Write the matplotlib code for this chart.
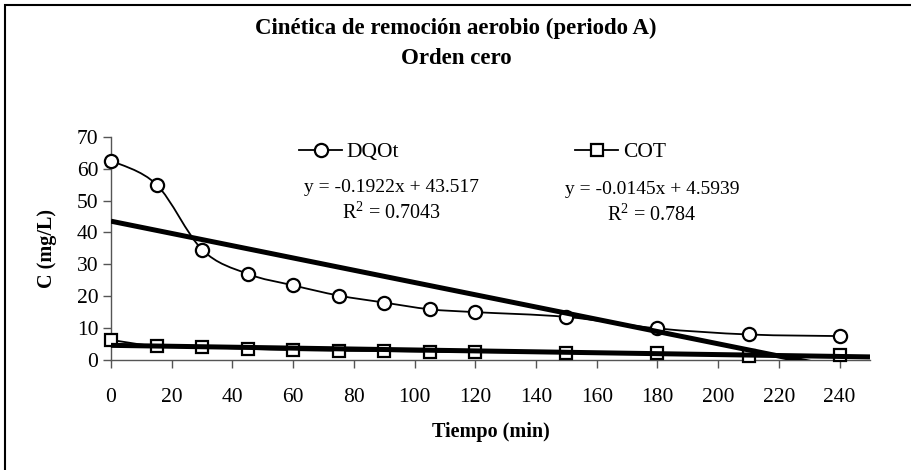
import matplotlib
matplotlib.use("Agg")
import matplotlib.pyplot as plt
from matplotlib.path import Path
from matplotlib.patches import PathPatch, Rectangle
from matplotlib.lines import Line2D
import numpy as np

# ---- data ----
tiempo = [0, 15, 30, 45, 60, 75, 90, 105, 120, 150, 180, 210, 240]
dqot = [62.5, 55.0, 34.6, 27.0, 23.4, 20.2, 18.0, 15.9, 15.0, 13.5, 9.9, 8.0, 7.5]
cot = [6.3, 4.3, 4.0, 3.5, 3.1, 2.9, 2.8, 2.6, 2.5, 2.3, 2.1, 1.4, 1.6]
trend_dqot = (-0.1922, 43.517)
trend_cot = (-0.0145, 4.5939)
trend_range = (0, 250)
eq_dqot = ["y = -0.1922x + 43.517", "R$^2$ = 0.7043"]
eq_cot = ["y = -0.0145x + 4.5939", "R$^2$ = 0.784"]
xticks = list(range(0, 241, 20))
yticks = list(range(0, 71, 10))
title = "Cinética de remoción aerobio (periodo A)\nOrden cero"
xlabel = "Tiempo (min)"
ylabel = "C (mg/L)"

plt.rcParams['font.family'] = ['Liberation Serif', 'DejaVu Serif']
plt.rcParams['mathtext.fontset'] = 'custom'
plt.rcParams['mathtext.rm'] = 'Liberation Serif'

W, H = 912, 470
fig = plt.figure(figsize=(W / 100, H / 100), dpi=100)

# outer chart border (top & left visible)
fig.patches.append(Rectangle((5 / W, -0.1), 2.0, 1 - 5 / H + 0.1, transform=fig.transFigure,
                             fill=False, edgecolor='black', linewidth=1.5))

ax = fig.add_axes([111 / W, 1 - 360 / H, 759 / W, (360 - 136.7) / H])
ax.set_xlim(0, 250)
ax.set_ylim(0, 70)


def smooth_path(xs, ys):
    pts = np.column_stack([xs, ys]).astype(float)
    n = len(pts)
    verts = [pts[0]]
    codes = [Path.MOVETO]
    for i in range(n - 1):
        p0 = pts[i - 1] if i > 0 else pts[i]
        p1 = pts[i]
        p2 = pts[i + 1]
        p3 = pts[i + 2] if i + 2 < n else pts[i + 1]
        c1 = p1 + (p2 - p0) / 6.0
        c2 = p2 - (p3 - p1) / 6.0
        verts += [c1, c2, p2]
        codes += [Path.CURVE4] * 3
    return Path(verts, codes)


for ys in (dqot, cot):
    ax.add_patch(PathPatch(smooth_path(tiempo, ys), fill=False, edgecolor='black',
                           linewidth=1.3, zorder=2, clip_on=False))

ax.plot(tiempo, dqot, linestyle='none', marker='o', markersize=9.5, markerfacecolor='white',
        markeredgecolor='black', markeredgewidth=1.6, zorder=3, clip_on=False)
ax.plot(tiempo, cot, linestyle='none', marker='s', markersize=8.5, markerfacecolor='white',
        markeredgecolor='black', markeredgewidth=1.6, zorder=3, clip_on=False)

tx = np.array(trend_range, dtype=float)
for m, b in (trend_dqot, trend_cot):
    ax.plot(tx, m * tx + b, color='black', linewidth=3.6, solid_capstyle='butt', zorder=4)

for s in ('top', 'right'):
    ax.spines[s].set_visible(False)
for s in ('left', 'bottom'):
    ax.spines[s].set_color('#555555')
    ax.spines[s].set_linewidth(1.0)

ax.set_xticks(xticks)
ax.set_yticks(yticks)
ax.tick_params(direction='out', length=6, width=1.0, color='#555555', labelsize=15.5, pad=3)
ax.tick_params(axis='x', pad=14)

ax.set_xlabel(xlabel, fontsize=14.5, fontweight='bold', labelpad=11)
ax.set_ylabel(ylabel, fontsize=14.5, fontweight='bold', labelpad=14)

fig.text(456 / W, 1 - 43.5 / H, title, ha='center', va='center', fontsize=16.5, fontweight='bold',
         linespacing=1.6)

# equations
fig.text(392 / W, 1 - 188 / H, eq_dqot[0], ha='center', va='center', fontsize=14)
fig.text(392 / W, 1 - 213 / H, eq_dqot[1], ha='center', va='center', fontsize=14.5)
fig.text(652 / W, 1 - 190 / H, eq_cot[0], ha='center', va='center', fontsize=14)
fig.text(652 / W, 1 - 215 / H, eq_cot[1], ha='center', va='center', fontsize=14.5)

handles = [Line2D([], [], color='black', linewidth=1.3, marker='o', markersize=9.5,
                  markerfacecolor='white', markeredgewidth=1.6),
           Line2D([], [], color='black', linewidth=1.3, marker='s', markersize=8.5,
                  markerfacecolor='white', markeredgewidth=1.6)]
fig.legend(handles, ['DQOt', 'COT'], loc='center left', bbox_to_anchor=(299 / W, 1 - 152 / H),
           ncol=2, frameon=False, fontsize=15.5, handlelength=2.0, handletextpad=0.2,
           columnspacing=8.2, borderaxespad=0, borderpad=0)

fig.savefig('out.png', dpi=100)
